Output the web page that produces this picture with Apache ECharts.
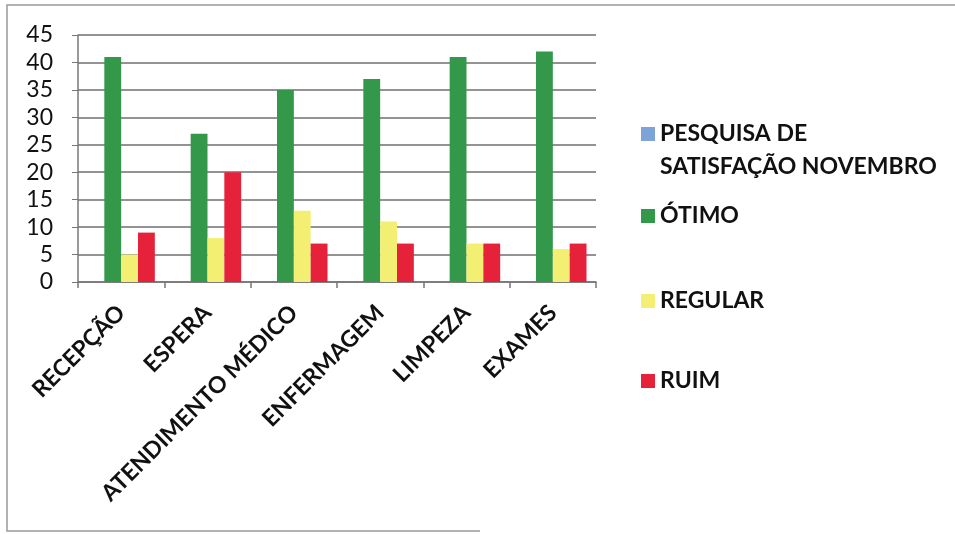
<!DOCTYPE html>
<html><head><meta charset="utf-8">
<script src="https://cdn.jsdelivr.net/npm/echarts@6/dist/echarts.min.js"></script>
<style>html,body{margin:0;padding:0;background:#fff}#c{width:955px;height:534px}</style>
</head><body><div id="c"></div>
<script>
var categories = ['RECEPÇÃO','ESPERA','ATENDIMENTO MÉDICO','ENFERMAGEM','LIMPEZA','EXAMES'];
var seriesNames = ['PESQUISA DE SATISFAÇÃO NOVEMBRO','ÓTIMO','REGULAR','RUIM'];
var pesquisa = [null,null,null,null,null,null];
var otimo = [41,27,35,37,41,42];
var regular = [5,8,13,11,7,6];
var ruim = [9,20,7,7,7,7];
var yTicks = {min:0, max:45, interval:5};

var colors = ['#7ea3d6','#33984a','#f3ef72','#e6213a'];
var font = 'Lato, "Open Sans", sans-serif';
var dataArr = [pesquisa, otimo, regular, ruim];
var legendTops = [121, 203, 288, 368];

var chart = echarts.init(document.getElementById('c'));
var legends = seriesNames.map(function(n, i){
  return {
    data:[n], orient:'vertical', left:641, top:legendTops[i], padding:0,
    itemWidth:14, itemHeight:14, icon:'rect',
    formatter: function(name){ return i===0 ? 'PESQUISA DE' : name; },
    textStyle:{fontFamily:font, fontWeight:'bold', fontSize:23, color:'#111', lineHeight:26},
    selectedMode:false
  };
});
chart.setOption({
  backgroundColor:'#ffffff',
  animation:false,
  color: colors,
  legend: legends,
  grid:{left:78, right:359, top:35, bottom:252, containLabel:false},
  xAxis:{
    type:'category', data:categories,
    axisLine:{lineStyle:{color:'#777', width:1.5}},
    axisTick:{show:true, alignWithLabel:false, length:6, lineStyle:{color:'#777', width:1.5}},
    axisLabel:{rotate:45, margin:27, fontFamily:font, fontWeight:'bold', fontSize:23, color:'#111', interval:0}
  },
  yAxis:{
    type:'value', min:yTicks.min, max:yTicks.max, interval:yTicks.interval,
    axisLine:{show:true, lineStyle:{color:'#777', width:1.5}},
    axisTick:{show:true, length:6, inside:false, lineStyle:{color:'#777'}},
    axisLabel:{margin:25, fontFamily:font, fontSize:23, color:'#111'},
    splitLine:{show:true, lineStyle:{color:'#6f6f6f', width:1.5}}
  },
  graphic:[
    {type:'text', left:660, top:155, style:{text:'SATISFAÇÃO NOVEMBRO', font:'bold 23px '+font, fill:'#111'}},
    {type:'polyline', shape:{points:[[955,5],[7,5],[7,531],[480,531]]}, style:{stroke:'#999', lineWidth:1.5, fill:null}}
  ],
  series: seriesNames.map(function(n,i){
    return {name:n, type:'bar', data:dataArr[i], barGap:'0%', barCategoryGap:'22%',
      itemStyle:{color:colors[i]}};
  })
});
</script></body></html>
